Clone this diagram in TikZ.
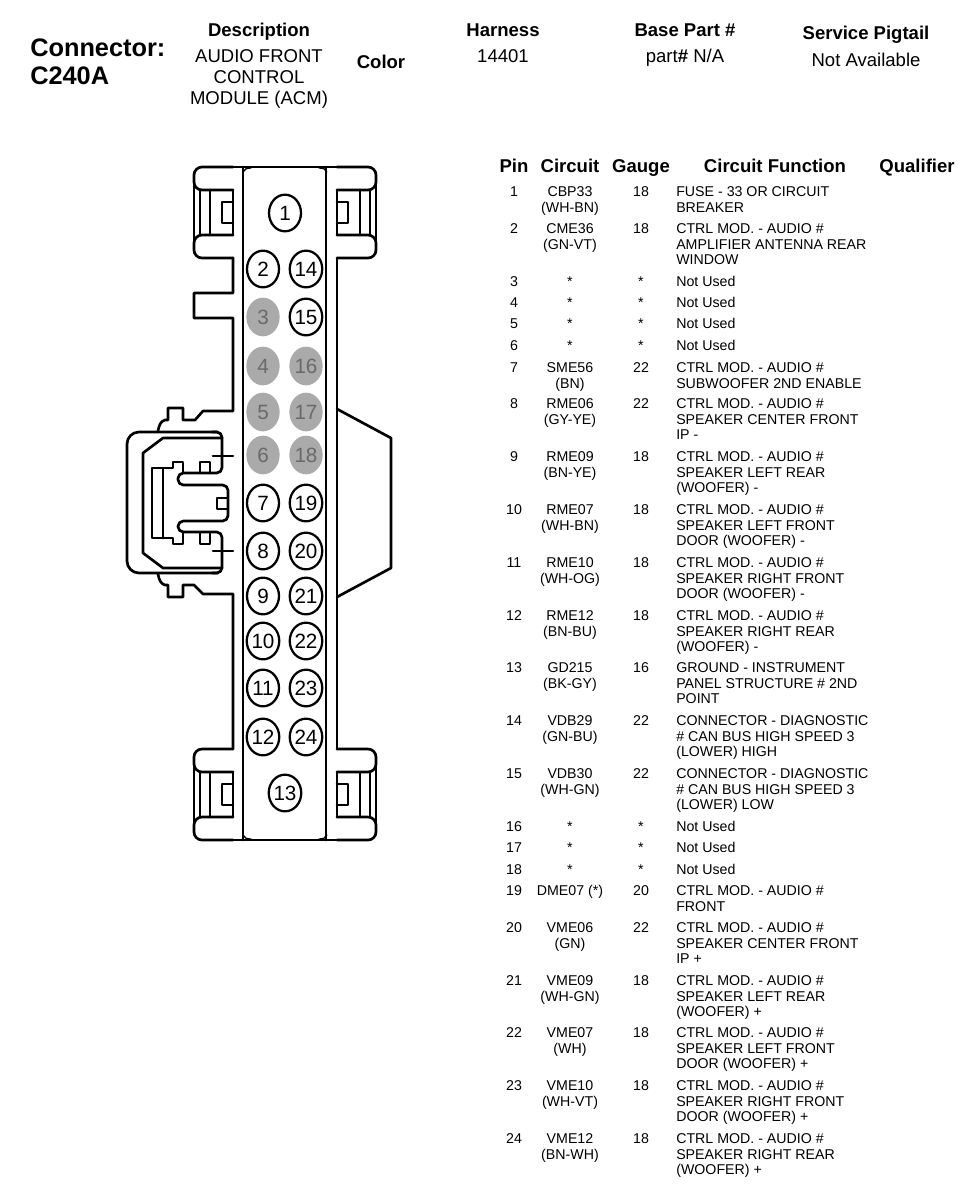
\documentclass[tikz,border=0pt]{standalone}
\usepackage{fontspec}
\setmainfont{Liberation Sans}
\usetikzlibrary{shapes.geometric}
\definecolor{pingrey}{RGB}{170,170,170}
\definecolor{pintext}{RGB}{105,105,105}
\tikzset{
  outline/.style={
    line width=2pt,
    line cap=round,
    line join=round,
    draw=black
  },
  head-bold/.style={font=\fontsize{13.9}{15.7}\selectfont\bfseries, align=center, inner sep=0pt},
  head-text/.style={font=\fontsize{13.9}{15.7}\selectfont, align=center, inner sep=0pt},
  conn-title/.style={font=\fontsize{19}{21}\selectfont\bfseries, align=left, anchor=west, inner sep=0pt},
  cell/.style={font=\fontsize{10.65}{11.8}\selectfont, anchor=north, align=center, inner sep=0pt},
  cell-func/.style={cell, anchor=north west, align=left},
  pin-open/.style={ellipse, outline, line width=1.7pt, minimum width=24pt, minimum height=27.5pt, inner sep=0pt,
    font=\fontsize{15.5}{16}\selectfont},
  pin-grey/.style={ellipse, fill=pingrey, minimum width=25pt, minimum height=29pt, inner sep=0pt,
    text=pintext, font=\fontsize{15.5}{16}\selectfont}
}
\newcommand{\rowstrut}{\rule{0pt}{9pt}}
% one corner latch, drawn from its outer top left corner
\newcommand{\latchear}{
  \draw[outline,rounded corners=6pt] (39,0) -- (0,0) -- (0,23) -- (39,23);
  \draw[outline,rounded corners=6pt] (39,68) -- (0,68) -- (0,91) -- (39,91);
  \draw[outline] (0,16) -- (0,75);
  \draw[outline] (6,23) -- (6,68);
  \draw[outline] (16,23) -- (16,68);
  \draw[outline] (39,23) -- (39,68);
  \draw[outline] (39,35) -- (28,35) -- (28,56) -- (39,56);
  \draw[outline,line width=1pt] (49,5) .. controls (50,2) and (53,1) .. (57,1);
}

\begin{document}
\begin{tikzpicture}[x=0.75pt,y=-0.75pt]
  \useasboundingbox (0,0) rectangle (976,1200);

  % Header
  \node[conn-title] (title) at (30,48) {Connector:};
  \node[conn-title] (name) at (30,76) {C240A};
  \node[head-bold] (desc) at (259,32) {Description};
  \node[head-text,anchor=north] (descval) at (259,49) {AUDIO FRONT\\CONTROL\\MODULE (ACM)};
  \node[head-bold] (color) at (381,62) {Color};
  \node[head-bold] (harness) at (503,30) {Harness};
  \node[head-text] (harnessval) at (503,56) {14401};
  \node[head-bold] (base) at (685,30) {Base Part \#};
  \node[head-text] (baseval) at (685,58) {part\textbf{\#} N/A};
  \node[head-bold] (pigtail) at (866,35) {Service Pigtail};
  \node[head-text] (pigtailval) at (866,60) {Not Available};

  % Table head
  \node[head-bold] (hpin) at (514,166) {Pin};
  \node[head-bold] (hcircuit) at (570,166) {Circuit};
  \node[head-bold] (hgauge) at (641,168) {Gauge};
  \node[head-bold] (hfunc) at (775,166) {Circuit Function};
  \node[head-bold] (hqual) at (917,168) {Qualifier};

  % Table rows
  \foreach \ypos/\pin/\circuit/\gauge/\func in {
    191/1/{CBP33\\(WH-BN)}/18/{FUSE - 33 OR CIRCUIT\\BREAKER},
    228/2/{CME36\\(GN-VT)}/18/{CTRL MOD. - AUDIO \#\\AMPLIFIER ANTENNA REAR\\WINDOW},
    281/3/*/*/Not Used,
    302/4/*/*/Not Used,
    323/5/*/*/Not Used,
    345/6/*/*/Not Used,
    367/7/{SME56\\(BN)}/22/{CTRL MOD. - AUDIO \#\\SUBWOOFER 2ND ENABLE},
    403/8/{RME06\\(GY-YE)}/22/{CTRL MOD. - AUDIO \#\\SPEAKER CENTER FRONT\\IP -},
    456/9/{RME09\\(BN-YE)}/18/{CTRL MOD. - AUDIO \#\\SPEAKER LEFT REAR\\(WOOFER) -},
    509/10/{RME07\\(WH-BN)}/18/{CTRL MOD. - AUDIO \#\\SPEAKER LEFT FRONT\\DOOR (WOOFER) -},
    562/11/{RME10\\(WH-OG)}/18/{CTRL MOD. - AUDIO \#\\SPEAKER RIGHT FRONT\\DOOR (WOOFER) -},
    615/12/{RME12\\(BN-BU)}/18/{CTRL MOD. - AUDIO \#\\SPEAKER RIGHT REAR\\(WOOFER) -},
    667/13/{GD215\\(BK-GY)}/16/{GROUND - INSTRUMENT\\PANEL STRUCTURE \# 2ND\\POINT},
    720/14/{VDB29\\(GN-BU)}/22/{CONNECTOR - DIAGNOSTIC\\\# CAN BUS HIGH SPEED 3\\(LOWER) HIGH},
    773/15/{VDB30\\(WH-GN)}/22/{CONNECTOR - DIAGNOSTIC\\\# CAN BUS HIGH SPEED 3\\(LOWER) LOW},
    826/16/*/*/Not Used,
    847/17/*/*/Not Used,
    869/18/*/*/Not Used,
    890/19/{DME07 (*)}/20/{CTRL MOD. - AUDIO \#\\FRONT},
    927/20/{VME06\\(GN)}/22/{CTRL MOD. - AUDIO \#\\SPEAKER CENTER FRONT\\IP +},
    980/21/{VME09\\(WH-GN)}/18/{CTRL MOD. - AUDIO \#\\SPEAKER LEFT REAR\\(WOOFER) +},
    1032/22/{VME07\\(WH)}/18/{CTRL MOD. - AUDIO \#\\SPEAKER LEFT FRONT\\DOOR (WOOFER) +},
    1085/23/{VME10\\(WH-VT)}/18/{CTRL MOD. - AUDIO \#\\SPEAKER RIGHT FRONT\\DOOR (WOOFER) +},
    1138/24/{VME12\\(BN-WH)}/18/{CTRL MOD. - AUDIO \#\\SPEAKER RIGHT REAR\\(WOOFER) +}%
  }{
    \node[cell] (rowpin\pin) at (514,\ypos-7) {\rowstrut\pin};
    \node[cell] (rowcirc\pin) at (570,\ypos-7) {\rowstrut\circuit};
    \node[cell] (rowgauge\pin) at (641,\ypos-7) {\rowstrut\gauge};
    \node[cell-func] (rowfunc\pin) at (676,\ypos-7) {\rowstrut\func};
  }

  % Connector body
  \draw[outline] (233,167) -- (337,167);
  \draw[outline] (233,840) -- (337,840);
  \draw[outline] (243,167) -- (243,840);
  \draw[outline] (326,167) -- (326,840);
  \draw[outline] (337,258) -- (337,749);
  \draw[outline] (337,409) -- (391,438) -- (391,568) -- (337,597);

  % Corner latches
  \begin{scope}[shift={(194,167)}]
    \latchear
  \end{scope}
  \begin{scope}[shift={(376,167)},xscale=-1]
    \latchear
  \end{scope}
  \begin{scope}[shift={(194,840)},yscale=-1]
    \latchear
  \end{scope}
  \begin{scope}[shift={(376,840)},xscale=-1,yscale=-1]
    \latchear
  \end{scope}

  % Left wall with notch and side tabs
  \draw[outline] (233,258) -- (233,293) -- (194,293) -- (194,318) -- (233,318)
    -- (233,411) -- (203,411) -- (195,420) -- (183,420) -- (183,408) -- (168,408) -- (168,420)
    -- (165,420) .. controls (161,421) and (159,425) .. (158,431);
  \draw[outline] (158,574) .. controls (159,580) and (161,584) .. (165,585)
    -- (168,585) -- (168,597) -- (183,597) -- (183,585) -- (194,585) -- (203,594)
    -- (233,594) -- (233,749);

  % Side clip
  \draw[outline,rounded corners=9pt] (218,432) -- (127,432) -- (127,573) -- (218,573);
  \draw[outline] (222,438) -- (163,438) -- (143,453) -- (143,553) -- (163,568) -- (222,568);
  \draw[outline,rounded corners=4pt] (212,432) -- (222,432) -- (222,473) -- (178,473) -- (178,485)
    -- (228,485) -- (228,521) -- (178,521) -- (178,532) -- (222,532) -- (222,573) -- (212,573);
  \draw[outline] (183,473) -- (183,462) -- (173,462) -- (173,468) -- (152,468) -- (152,538)
    -- (173,538) -- (173,544) -- (183,544) -- (183,532);
  \draw[outline] (163,468) -- (163,538);
  \draw[outline] (200,473) -- (200,462) -- (210,462) -- (210,473);
  \draw[outline] (200,532) -- (200,544) -- (210,544) -- (210,532);
  \draw[outline] (217,498) rectangle (228,509);
  \draw[outline] (213,456) -- (233,456);
  \draw[outline] (213,551) -- (233,551);

  % Pins
  \node[pin-open] (p1) at (285,213) {1};
  \node[pin-open] (p13) at (285,793) {13};
  \foreach \ypos/\left/\right in {269/2/14,503/7/19,551/8/20,596/9/21,641/10/22,688/11/23,737/12/24}{
    \node[pin-open] (p\left) at (263,\ypos) {\left};
    \node[pin-open] (p\right) at (306,\ypos) {\right};
  }
  \node[pin-grey] (p3) at (263,317) {3};
  \node[pin-open] (p15) at (306,317) {15};
  \foreach \ypos/\left/\right in {366/4/16,412/5/17,455/6/18}{
    \node[pin-grey] (p\left) at (263,\ypos) {\left};
    \node[pin-grey] (p\right) at (306,\ypos) {\right};
  }
\end{tikzpicture}
\end{document}
